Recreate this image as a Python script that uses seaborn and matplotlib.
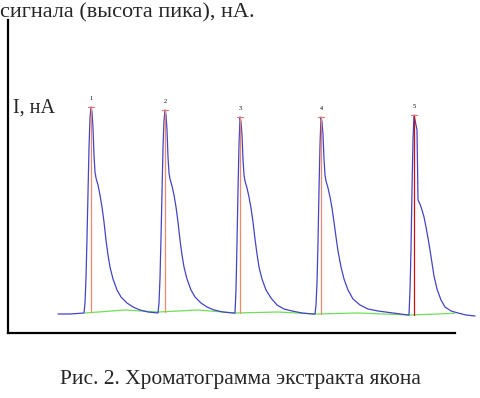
"""
Chromatogram of yacon extract: five injections, peak height read as signal (nA)
"""
import numpy as np
import pandas as pd
import matplotlib.pyplot as plt
import seaborn as sns

# detector trace: time, s / current, nA (one list per injection)
t_pre = [100, 124, 150]
i_pre = [1.9, 1.9, 2.0]

t_p1 = [152, 154, 156, 158, 160, 162, 164, 166, 168, 170, 172, 174, 176, 180, 184, 188, 192, 196,
        200, 204, 210, 218, 226, 238, 250, 264, 280, 298]
i_p1 = [2.0, 3.0, 5.5, 9.5, 14.0, 18.5, 21.5, 22.6, 22.1, 20.5, 17.8, 16.1, 15.5, 14.8, 13.8, 12.6,
        11.1, 9.3, 7.8, 6.6, 5.4, 4.3, 3.6, 3.0, 2.6, 2.3, 2.1, 2.0]

t_p2 = [300, 302, 304, 306, 308, 310, 312, 314, 316, 318, 320, 322, 324, 328, 332, 336, 340, 344,
        348, 352, 358, 366, 374, 386, 398, 412, 430, 450]
i_p2 = [2.0, 3.0, 5.5, 9.5, 14.0, 18.5, 21.2, 22.3, 21.8, 20.3, 17.6, 16.0, 15.4, 14.7, 13.8, 12.6,
        11.1, 9.3, 7.8, 6.6, 5.4, 4.3, 3.6, 3.0, 2.6, 2.3, 2.1, 2.0]

t_p3 = [454, 456, 458, 460, 462, 464, 466, 468, 470, 472, 474, 478, 482, 486, 490, 494, 498, 502,
        508, 516, 526, 538, 552, 568, 588, 610]
i_p3 = [2.0, 4.3, 9.0, 14.3, 18.8, 21.6, 21.1, 19.8, 17.4, 15.8, 15.2, 14.5, 13.6, 12.5, 11.1, 9.4,
        7.9, 6.6, 5.4, 4.3, 3.5, 2.8, 2.4, 2.2, 2.0, 1.9]

t_p4 = [614, 616, 618, 620, 622, 624, 626, 628, 630, 632, 634, 636, 640, 644, 648, 652, 656, 660,
        666, 672, 680, 690, 704, 720, 740, 770, 800]
i_p4 = [1.9, 2.8, 5.0, 9.0, 14.3, 18.8, 21.6, 21.1, 19.8, 17.4, 15.8, 15.2, 14.5, 13.6, 12.5, 11.1,
        9.6, 8.2, 6.6, 5.4, 4.3, 3.4, 2.8, 2.4, 2.2, 2.0, 1.8]

t_p5 = [802, 804, 806, 808, 810, 812, 814, 818, 820, 824, 828, 832, 836, 840, 844, 848, 852, 858,
        866, 874, 886, 900, 916, 934]
i_p5 = [1.8, 4.3, 8.3, 14.3, 19.3, 21.8, 21.3, 20.3, 13.3, 12.9, 12.3, 11.6, 10.6, 9.5, 8.3, 7.0,
        5.7, 4.4, 3.3, 2.6, 2.2, 2.0, 1.8, 1.7]

# integration baseline drawn by the software
base_time = [154, 234, 300, 380, 454, 540, 614, 700, 804, 860, 904]
base_nA = [2.0, 2.3, 2.1, 2.3, 2.0, 2.1, 1.9, 2.0, 1.8, 1.9, 2.0]

# detected peaks
peak_labels = ['1', '2', '3', '4', '5']
peak_time = [166, 314, 464, 626, 812]
peak_height = [22.6, 22.3, 21.6, 21.6, 21.8]
peak_foot = [2.1, 2.1, 2.0, 1.9, 1.8]
peak_colors = ['#f08a6a', '#f08a6a', '#f08a6a', '#f08a6a', '#c81010']

trace = pd.DataFrame({'t': t_pre + t_p1 + t_p2 + t_p3 + t_p4 + t_p5,
                      'I': i_pre + i_p1 + i_p2 + i_p3 + i_p4 + i_p5})
base = pd.DataFrame({'t': base_time, 'I': base_nA})

sns.set_style('white')
plt.rcParams['font.family'] = ['Liberation Serif', 'DejaVu Serif']

fig = plt.figure(figsize=(4.8, 3.98), dpi=100)
ax = fig.add_axes([8 / 480, 65 / 398, 447 / 480, 313 / 398])

sns.lineplot(data=base, x='t', y='I', ax=ax, color='#6ee05a', linewidth=0.9,
             sort=False, estimator=None)
for t, h, f, c in zip(peak_time, peak_height, peak_foot, peak_colors):
    ax.plot([t, t], [f, h], color=c, linewidth=0.9, zorder=3)
    ax.plot([t - 6, t + 6], [h, h], color='#e07878', linewidth=0.9, zorder=3)
sns.lineplot(data=trace, x='t', y='I', ax=ax, color='#4444c4', linewidth=0.9,
             sort=False, estimator=None, clip_on=False, zorder=2)
for lab, t, h in zip(peak_labels, peak_time, peak_height):
    ax.text(t, h + 0.6, lab, fontsize=4.5, ha='center', va='bottom', color='black')

ax.set_xlim(0, 894)
ax.set_ylim(0, 31.3)
ax.set_xticks([])
ax.set_yticks([])
ax.set_xlabel('')
ax.set_ylabel('')
for s in ['top', 'right']:
    ax.spines[s].set_visible(False)
for s in ['left', 'bottom']:
    ax.spines[s].set_color('black')
    ax.spines[s].set_linewidth(1.6)

ax.text(5 / 447, 22.0, 'I, нА', transform=ax.get_yaxis_transform(), fontsize=14.5,
        ha='left', va='baseline')
fig.text(0, 381 / 398, 'сигнала (высота пика), нА.', fontsize=16, ha='left', va='baseline')
fig.text(0.5, 14 / 398, 'Рис. 2. Хроматограмма экстракта якона', fontsize=15.5,
         ha='center', va='baseline')

fig.savefig('out.png', dpi=100)
